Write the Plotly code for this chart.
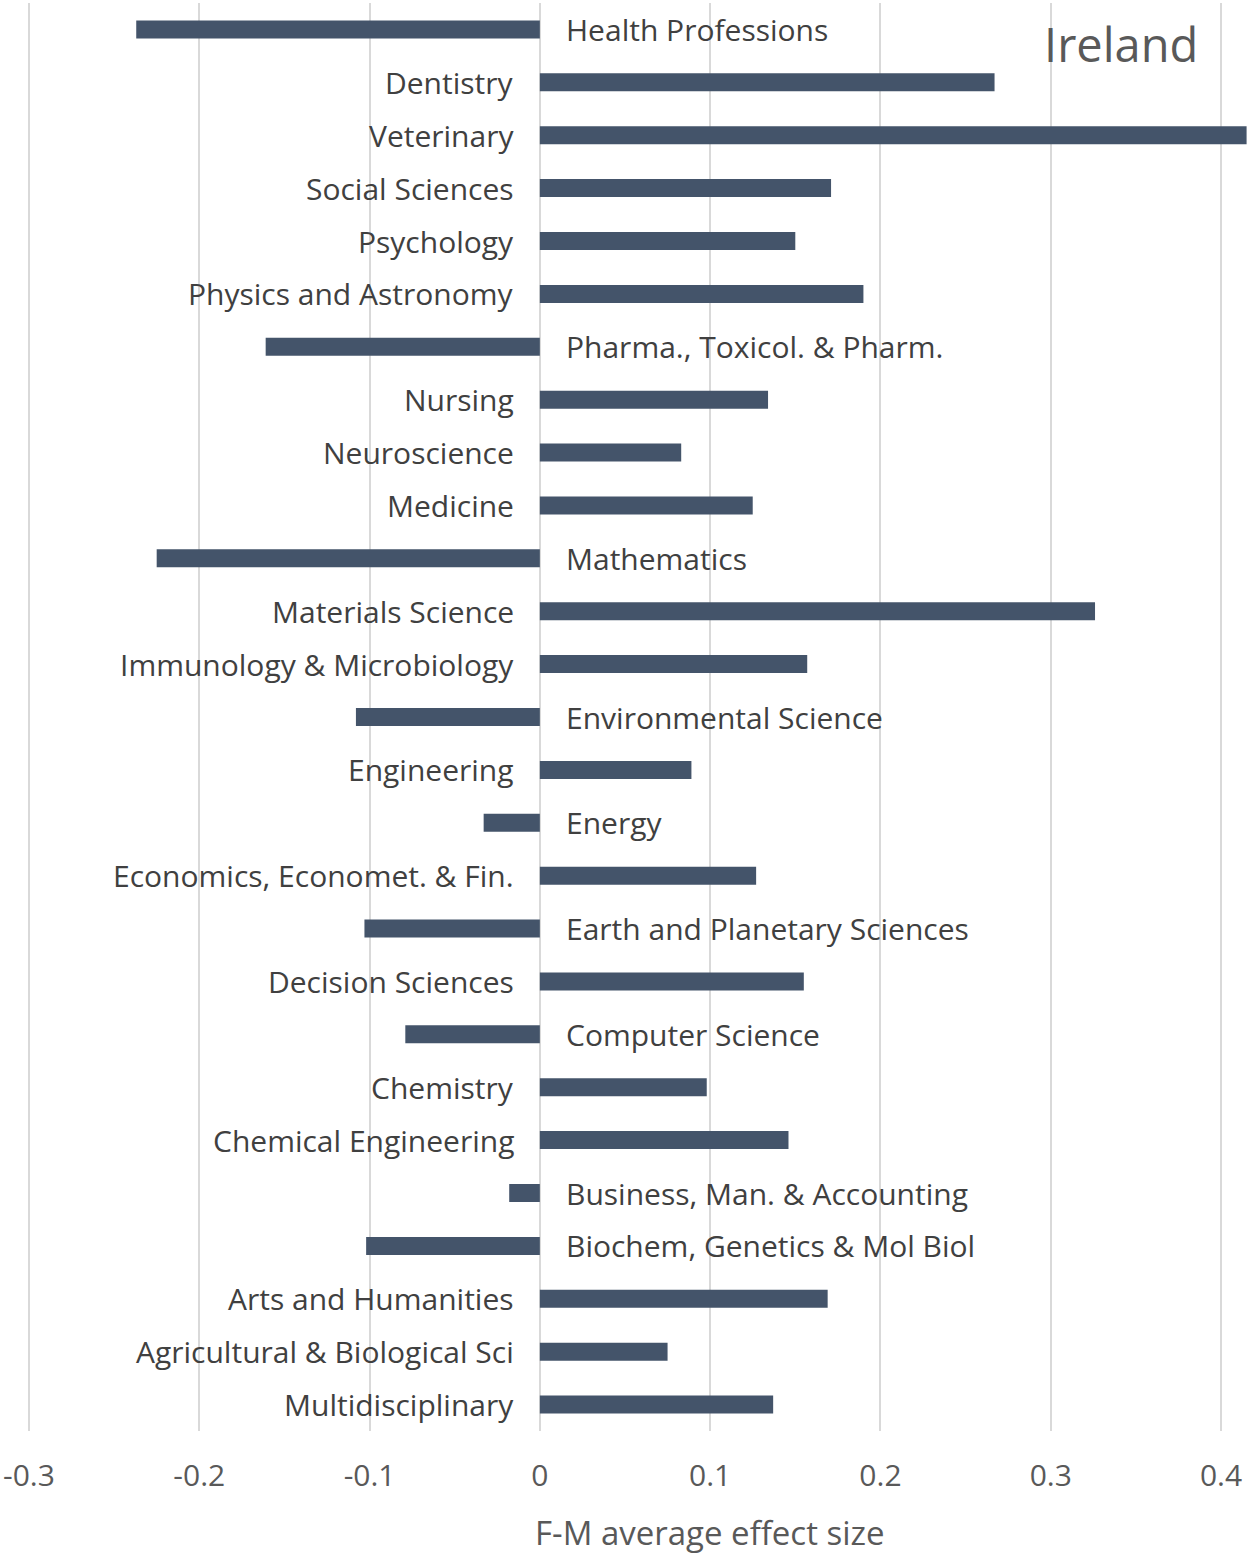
import plotly.graph_objects as go

categories = [
    "Health Professions", "Dentistry", "Veterinary", "Social Sciences", "Psychology",
    "Physics and Astronomy", "Pharma., Toxicol. & Pharm.", "Nursing", "Neuroscience",
    "Medicine", "Mathematics", "Materials Science", "Immunology & Microbiology",
    "Environmental Science", "Engineering", "Energy", "Economics, Economet. & Fin.",
    "Earth and Planetary Sciences", "Decision Sciences", "Computer Science", "Chemistry",
    "Chemical Engineering", "Business, Man. & Accounting", "Biochem, Genetics & Mol Biol",
    "Arts and Humanities", "Agricultural & Biological Sci", "Multidisciplinary",
]
values = [
    -0.237, 0.267, 0.415, 0.171, 0.150, 0.190, -0.161, 0.134, 0.083, 0.125,
    -0.225, 0.326, 0.157, -0.108, 0.089, -0.033, 0.127, -0.103, 0.155, -0.079,
    0.098, 0.146, -0.018, -0.102, 0.169, 0.075, 0.137,
]
tick_vals = [-0.3, -0.2, -0.1, 0, 0.1, 0.2, 0.3, 0.4]
tick_text = ["-0.3", "-0.2", "-0.1", "0", "0.1", "0.2", "0.3", "0.4"]

FONT = "Open Sans"
fig = go.Figure(go.Bar(
    x=values, y=categories, orientation="h",
    marker=dict(color="#44546A", line=dict(width=0)),
    width=0.34,
))

for c, v in zip(categories, values):
    if v >= 0:
        fig.add_annotation(x=0, y=c, text=c, showarrow=False, xanchor="right",
                           xshift=-24, font=dict(family=FONT, size=30, color="#404040"))
    else:
        fig.add_annotation(x=0, y=c, text=c, showarrow=False, xanchor="left",
                           xshift=24, font=dict(family=FONT, size=30, color="#404040"))

fig.add_annotation(x=0.96, y=0.995, xref="paper", yref="paper", text="Ireland",
                   showarrow=False, xanchor="right", yanchor="top",
                   font=dict(family=FONT, size=47, color="#595959"))

fig.add_annotation(x=0.568, y=0, xref="paper", yref="paper", yshift=-101,
                   text="F-M average effect size", showarrow=False,
                   xanchor="center", yanchor="middle",
                   font=dict(family=FONT, size=33, color="#595959"))

fig.update_layout(
    width=1250, height=1554,
    margin=dict(l=0, r=0, t=3, b=123),
    plot_bgcolor="white", paper_bgcolor="white",
    showlegend=False,
    font=dict(family=FONT, color="#595959"),
)
fig.update_xaxes(
    range=[-0.317, 0.417], tickvals=tick_vals, ticktext=tick_text,
    showgrid=True, gridcolor="#D9D9D9", gridwidth=2,
    zeroline=False, showline=False, ticks="",
    tickfont=dict(family=FONT, size=30, color="#595959"),
    ticklabelstandoff=24, automargin=False,
)
fig.update_yaxes(
    categoryorder="array", categoryarray=categories, autorange="reversed",
    showticklabels=False, showgrid=False, zeroline=False, showline=False,
    automargin=False,
)
fig.write_html("out.html")
